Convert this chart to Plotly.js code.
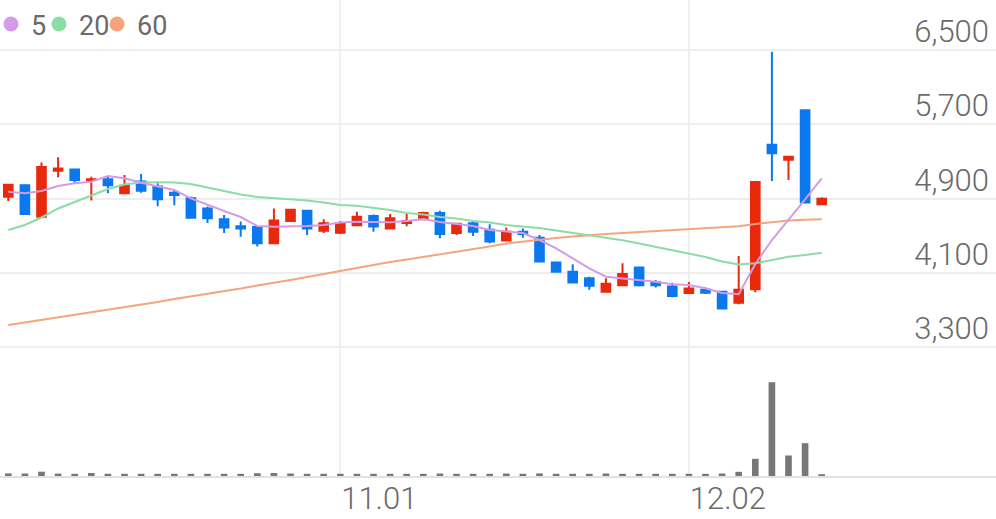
<!DOCTYPE html>
<html>
<head>
<meta charset="utf-8">
<script src="https://cdn.plot.ly/plotly-3.0.1.min.js"></script>
<style>
html,body{margin:0;padding:0;background:#ffffff;}
#chart{width:996px;height:519px;}
</style>
</head>
<body>
<div id="chart"></div>
<script>
// trading dates (MM.DD)
const dates = ['10.02','10.04','10.07','10.08','10.10','10.11','10.14','10.15','10.16','10.17',
  '10.18','10.21','10.22','10.23','10.24','10.25','10.28','10.29','10.30','10.31',
  '11.01','11.04','11.05','11.06','11.07','11.08','11.11','11.12','11.13','11.14',
  '11.15','11.18','11.19','11.20','11.21','11.22','11.25','11.26','11.27','11.28',
  '11.29','12.02','12.03','12.04','12.05','12.06','12.09','12.10','12.11','12.12'];

const openP  = [4920,5045,4705,5200,5215,5100,5110,4960,5085,5030,
  4965,4905,4795,4680,4605,4595,4420,4660,4770,4555,
  4535,4615,4715,4580,4640,4680,4745,4530,4635,4565,
  4450,4545,4480,4215,4115,4045,3900,3970,4160,4005,
  3955,3885,3920,3900,3780,3925,5480,5320,5850,4840];
const highP  = [5050,5045,5290,5345,5225,5135,5145,5155,5165,5065,
  4985,4920,4815,4725,4655,4595,4795,4780,4770,4680,
  4660,4760,4730,4735,4735,4760,4770,4630,4655,4625,
  4590,4580,4510,4215,4195,4060,4045,4205,4170,4025,
  3995,4005,3945,3900,4285,5080,6480,5350,5860,4915];
const lowP   = [4875,4735,4705,5130,5065,4880,4960,4960,4965,4820,
  4830,4695,4640,4530,4490,4385,4420,4660,4510,4530,
  4520,4605,4545,4570,4605,4680,4475,4510,4500,4420,
  4450,4480,4225,4115,4000,3920,3900,3970,3955,3945,
  3840,3885,3875,3720,3765,3895,5090,5100,4860,4840];
const closeP = [5050,4735,5240,5225,5100,5110,5045,5040,4985,4895,
  4940,4695,4690,4590,4580,4420,4665,4780,4580,4635,
  4635,4705,4600,4690,4660,4745,4520,4630,4545,4440,
  4545,4520,4225,4115,4000,3965,3985,4090,3970,3970,
  3855,3935,3890,3720,3920,5080,5390,5350,4860,4900];

const volume = [260000,250000,430000,240000,220000,300000,220000,220000,220000,220000,
  220000,220000,220000,220000,220000,280000,300000,250000,220000,220000,
  220000,220000,220000,220000,220000,220000,250000,220000,220000,220000,
  250000,220000,260000,220000,220000,220000,250000,220000,220000,220000,
  220000,220000,220000,250000,420000,1720000,9380000,2050000,3280000,180000];

// moving averages
const ma5 = [4975,4958,4983,5037,5066,5083,5144,5119,5072,5037,
  4994,4904,4832,4768,4703,4607,4599,4599,4607,4617,
  4644,4653,4646,4646,4660,4682,4650,4631,4607,4564,
  4545,4531,4456,4367,4259,4152,4061,4044,4026,4008,
  3980,3972,3937,3886,3873,4198,4456,4671,4894,5119];
const ma20 = [4564,4617,4698,4795,4865,4935,5004,5053,5074,5076,
  5074,5058,5021,4977,4945,4918,4904,4897,4881,4859,
  4832,4824,4800,4779,4746,4730,4703,4687,4660,4644,
  4617,4603,4585,4558,4531,4507,4483,4453,4418,4381,
  4343,4311,4273,4225,4193,4205,4241,4276,4295,4319];
const ma60 = [3542,3569,3596,3623,3650,3682,3709,3736,3762,3789,
  3822,3848,3875,3908,3934,3967,3994,4026,4058,4090,
  4128,4160,4187,4219,4246,4273,4305,4332,4359,4386,
  4418,4440,4461,4477,4494,4510,4520,4531,4542,4553,
  4564,4571,4582,4592,4603,4628,4650,4666,4673,4679];

const maNames = ['5','20','60'];
const maColors = ['#d59be9','#8ddba5','#f6a47e'];
const xTicks = ['11.01','12.02'];
const priceTicks = [3300,4100,4900,5700,6500];

const upColor = '#e8290b';
const downColor = '#0b78ef';
const txt = '#6a6a6a';
const font = 'Roboto, "Noto Sans", sans-serif';

const traces = [];
[ma60, ma20, ma5].forEach((arr, k) => {
  const i = 2 - k;
  traces.push({type:'scatter', mode:'lines', x:dates, y:arr, xaxis:'x', yaxis:'y',
    line:{color:maColors[i], width:2}, showlegend:false, hoverinfo:'skip'});
});
traces.push({
  type:'candlestick', x:dates, open:openP, high:highP, low:lowP, close:closeP,
  xaxis:'x', yaxis:'y', showlegend:false, whiskerwidth:0,
  increasing:{line:{color:upColor, width:2}, fillcolor:upColor},
  decreasing:{line:{color:downColor, width:2}, fillcolor:downColor},
  hoverinfo:'skip'
});
traces.push({type:'bar', x:dates, y:volume, xaxis:'x', yaxis:'y2',
  marker:{color:'#777777'}, showlegend:false, hoverinfo:'skip'});
const legendIds = ['legend','legend2','legend3'];
maNames.forEach((n, i) => {
  traces.push({type:'scatter', mode:'markers', x:[null], y:[null], name:n,
    legend:legendIds[i],
    marker:{color:maColors[i], size:15, symbol:'circle'}, showlegend:true});
});

const priceDomainBottom = 126/476;

function legendAt(px) {
  return {orientation:'h', x:px/996, y:1, xanchor:'left', yanchor:'top',
    font:{family:font, size:27, color:txt}, itemwidth:30,
    bgcolor:'rgba(0,0,0,0)', borderwidth:0};
}

const layout = {
  width:996, height:519,
  margin:{l:0, r:0, t:0, b:43, autoexpand:false},
  paper_bgcolor:'#ffffff', plot_bgcolor:'#ffffff',
  font:{family:font, color:txt},
  showlegend:true,
  legend:legendAt(-9),
  legend2:legendAt(39),
  legend3:legendAt(97),
  bargap:0.6,
  boxgap:0.35, boxgroupgap:0.2,
  hovermode:false,
  xaxis:{type:'category', categoryorder:'array', categoryarray:dates,
    range:[-0.5, 59.5], anchor:'y2', automargin:false,
    tickmode:'array', tickvals:xTicks, ticktext:xTicks,
    ticks:'', ticklen:0, ticklabelshift:39, ticklabelstandoff:-6,
    tickfont:{family:font, size:31, color:txt, weight:300},
    showgrid:true, gridcolor:'#f0f0f0', gridwidth:2,
    showline:true, linecolor:'#e2e2e2', linewidth:2,
    zeroline:false, rangeslider:{visible:false}, fixedrange:true},
  yaxis:{domain:[priceDomainBottom, 1], range:[3273, 7037], side:'right', anchor:'x',
    automargin:false,
    tickmode:'array', tickvals:priceTicks, tickformat:',d',
    ticklabelposition:'inside', ticklabelshift:-19, ticklabelstandoff:4, ticks:'', ticklen:0,
    tickfont:{family:font, size:31, color:txt, weight:300},
    showgrid:true, gridcolor:'#eeeeee', gridwidth:2,
    zeroline:false, showline:false, fixedrange:true},
  yaxis2:{domain:[0, priceDomainBottom], range:[0, 12600000], anchor:'x', automargin:false,
    showgrid:false, showticklabels:false, zeroline:false, showline:false, ticks:'', fixedrange:true}
};

Plotly.newPlot('chart', traces, layout, {staticPlot:true, displayModeBar:false});
</script>
</body>
</html>
